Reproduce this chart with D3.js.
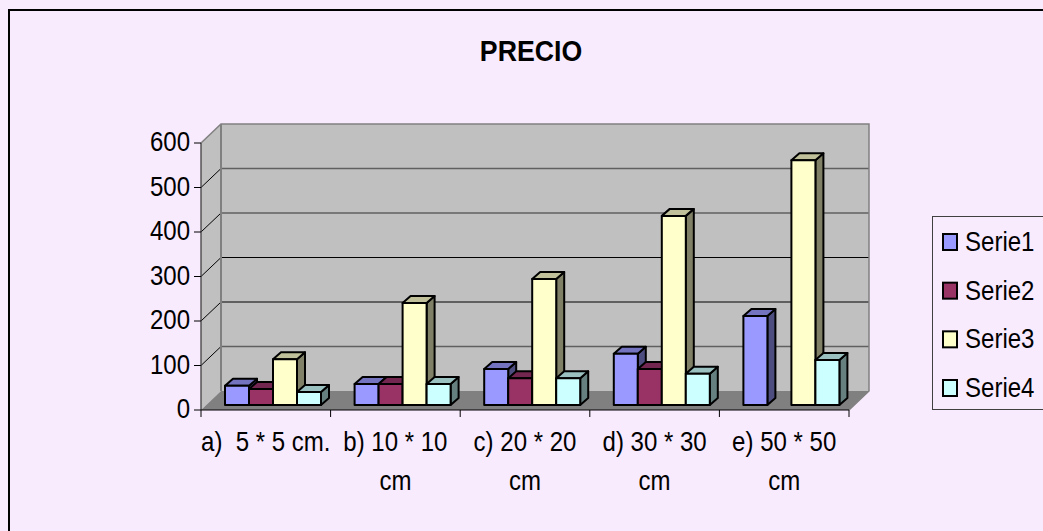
<!DOCTYPE html>
<html>
<head>
    <title>PRECIO</title>
    <script src="https://d3js.org/d3.v7.min.js"></script>
    <style>
        html, body {
            margin: 0;
            padding: 0;
            background: #f8ebfe;
            overflow: hidden;
        }
        text {
            font-family: "Liberation Sans", sans-serif;
            fill: #000;
            white-space: pre;
        }
    </style>
</head>
<body>
    <div id="chart"></div>
    <script>
        let categories = ["a)  5 * 5 cm.", "b) 10 * 10 cm", "c) 20 * 20 cm", "d) 30 * 30 cm", "e) 50 * 50 cm"];
        let seriesNames = ["Serie1", "Serie2", "Serie3", "Serie4"];
        let serie1 = [43, 47, 81, 115, 200];
        let serie2 = [36, 47, 60, 81, 0];
        let serie3 = [103, 229, 283, 425, 550];
        let serie4 = [29, 47, 60, 70, 101];
        let yTicks = [0, 100, 200, 300, 400, 500, 600];

        let allSeries = [serie1, serie2, serie3, serie4];
        let colors = ["#9999ff", "#993366", "#ffffcc", "#ccffff"];
        let topColors = ["#7373c0", "#732650", "#c0c09a", "#9ac0c0"];
        let sideColors = ["#4d4d80", "#4d1a33", "#808066", "#668080"];

        let width = 1043;
        let height = 531;
        let plotLeft = 201;
        let plotRight = 849;
        let dx = 20;      // depth of the walls
        let dy = 19;
        let barDx = 8;    // depth of a bar
        let barDy = 7;
        let narrow = 0.89; // the font in the picture is narrower than Liberation Sans

        let svg = d3.select("#chart").append("svg")
            .attr("width", width)
            .attr("height", height)
            .style("display", "block");

        // frame, runs off the right and bottom of the picture
        svg.append("rect")
            .attr("x", 9)
            .attr("y", 10)
            .attr("width", width + 20)
            .attr("height", height + 20)
            .attr("fill", "#f8ebfe")
            .attr("stroke", "#000")
            .attr("stroke-width", 2);

        svg.append("text")
            .attr("transform", `translate(531,61) scale(${narrow},1)`)
            .attr("text-anchor", "middle")
            .attr("font-size", 30)
            .attr("font-weight", "bold")
            .text("PRECIO");

        let x = d3.scaleBand()
            .domain(categories)
            .range([plotLeft, plotRight]);

        let y = d3.scaleLinear()
            .domain([0, 600])
            .range([410, 143]);

        // walls and floor
        let floorY = y(0);
        let topY = y(600);
        svg.append("polygon")
            .attr("points", [[plotLeft, floorY], [plotLeft + dx, floorY - dy], [plotLeft + dx, topY - dy], [plotLeft, topY]].join(" "))
            .attr("fill", "#c0c0c0");
        svg.append("rect")
            .attr("x", plotLeft + dx)
            .attr("y", topY - dy)
            .attr("width", plotRight - plotLeft)
            .attr("height", floorY - topY)
            .attr("fill", "#c0c0c0");
        svg.append("polygon")
            .attr("points", [[plotLeft, floorY], [plotLeft + dx, floorY - dy], [plotRight + dx, floorY - dy], [plotRight, floorY]].join(" "))
            .attr("fill", "#808080");

        // gridlines, back wall and side wall
        let grid = svg.append("g")
            .selectAll("g")
            .data(yTicks.filter(d => d > 0 && d < 600))
            .join("g");
        grid.append("line")
            .attr("x1", plotLeft + dx)
            .attr("x2", plotRight + dx)
            .attr("y1", d => y(d) - dy)
            .attr("y2", d => y(d) - dy)
            .attr("stroke", d => d >= 400 || d == 100 ? "#606060" : "#000")
            .attr("stroke-width", d => d >= 400 || d == 100 ? 1.3 : 1);
        grid.append("line")
            .attr("x1", plotLeft)
            .attr("x2", plotLeft + dx)
            .attr("y1", d => y(d))
            .attr("y2", d => y(d) - dy)
            .attr("stroke", "#000");

        // wall borders
        svg.append("path")
            .attr("d", `M${plotLeft},${topY}L${plotLeft + dx},${topY - dy}H${plotRight + dx}V${floorY - dy}L${plotRight},${floorY}`)
            .attr("fill", "none")
            .attr("stroke", "#808080")
            .attr("stroke-width", 1.5);
        svg.append("line")
            .attr("x1", plotLeft + dx)
            .attr("x2", plotLeft + dx)
            .attr("y1", topY - dy)
            .attr("y2", floorY - dy)
            .attr("stroke", "#808080")
            .attr("stroke-width", 2);

        // bars
        let barWidth = 24;
        let barBase = 405;
        let barOffset = 24;
        let barHeight = d => y(0) - y(d);

        let bars = [];
        categories.forEach((c, i) => {
            allSeries.forEach((s, j) => {
                if (s[i] > 0) bars.push({cat: c, value: s[i], series: j});
            });
        });

        // left to right, each bar's front covers the side of the one before
        let bar = svg.append("g")
            .attr("stroke", "#000")
            .attr("stroke-width", 2)
            .attr("stroke-linejoin", "round")
            .selectAll("g")
            .data(bars)
            .join("g")
            .attr("transform", d => `translate(${x(d.cat) + barOffset + d.series * barWidth},${barBase})`);

        bar.append("polygon")
            .attr("fill", d => sideColors[d.series])
            .attr("points", d => {
                let h = barHeight(d.value);
                return [[barWidth, 0], [barWidth + barDx, -barDy], [barWidth + barDx, -h - barDy], [barWidth, -h]].join(" ");
            });
        bar.append("polygon")
            .attr("fill", d => topColors[d.series])
            .attr("points", d => {
                let h = barHeight(d.value);
                return [[0, -h], [barDx, -h - barDy], [barWidth + barDx, -h - barDy], [barWidth, -h]].join(" ");
            });
        bar.append("rect")
            .attr("fill", d => colors[d.series])
            .attr("y", d => -barHeight(d.value))
            .attr("width", barWidth)
            .attr("height", d => barHeight(d.value));

        // axes
        let axes = svg.append("g").attr("stroke", "#000");
        axes.append("line")
            .attr("x1", plotLeft).attr("x2", plotLeft)
            .attr("y1", topY).attr("y2", floorY)
            .attr("stroke", "#404040").attr("stroke-width", 1.3);
        axes.append("line")
            .attr("x1", plotLeft).attr("x2", plotRight)
            .attr("y1", floorY).attr("y2", floorY);
        axes.selectAll(".ytick")
            .data(yTicks)
            .join("line")
            .attr("class", "ytick")
            .attr("x1", plotLeft - 7).attr("x2", plotLeft)
            .attr("y1", d => y(d)).attr("y2", d => y(d));
        axes.selectAll(".xtick")
            .data(categories.concat([null]))
            .join("line")
            .attr("class", "xtick")
            .attr("x1", d => d ? x(d) : plotRight)
            .attr("x2", d => d ? x(d) : plotRight)
            .attr("y1", floorY).attr("y2", floorY + 7);

        svg.append("g")
            .selectAll("text")
            .data(yTicks)
            .join("text")
            .attr("transform", d => `translate(190,${y(d) + 8}) scale(${narrow},1)`)
            .attr("text-anchor", "end")
            .attr("font-size", 27)
            .text(d => d);

        // category labels wrap after the second number, "a" fits on one line
        let xLabels = svg.append("g")
            .selectAll("text")
            .data(categories)
            .join("text")
            .attr("transform", d => `translate(${x(d) + x.bandwidth() / 2},0) scale(${narrow},1)`)
            .attr("y", 451)
            .attr("text-anchor", "middle")
            .attr("font-size", 27);
        xLabels.each(function(d) {
            let t = d3.select(this);
            let cut = d.endsWith(" cm") ? d.length - 3 : d.length;
            t.append("tspan").text(d.slice(0, cut));
            if (cut < d.length) {
                t.append("tspan")
                    .attr("x", 0)
                    .attr("y", 490)
                    .text(d.slice(cut + 1));
            }
        });

        // legend
        svg.append("rect")
            .attr("x", 932.5)
            .attr("y", 216.5)
            .attr("width", 140)
            .attr("height", 193)
            .attr("fill", "#f8ebfe")
            .attr("stroke", "#404040");

        let legendY = d3.scalePoint()
            .domain(seriesNames)
            .range([242, 388]);

        let item = svg.append("g")
            .selectAll("g")
            .data(seriesNames)
            .join("g")
            .attr("transform", d => `translate(943,${legendY(d)})`);
        item.append("rect")
            .attr("y", -8)
            .attr("width", 14)
            .attr("height", 16)
            .attr("fill", (d, i) => colors[i])
            .attr("stroke", "#000")
            .attr("stroke-width", 2);
        item.append("text")
            .attr("transform", `translate(22,9) scale(${narrow},1)`)
            .attr("font-size", 27)
            .text(d => d);
    </script>
</body>
</html>
